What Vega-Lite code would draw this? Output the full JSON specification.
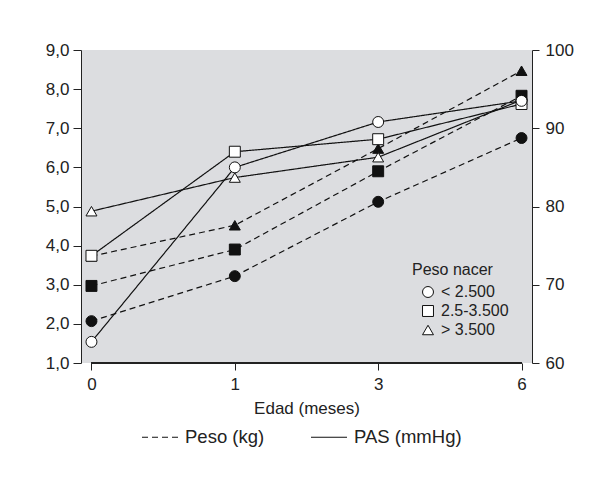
{
  "$schema": "https://vega.github.io/schema/vega-lite/v6.json",
  "width": 451,
  "height": 313,
  "autosize": {"type": "none"},
  "padding": {"left": 81, "top": 50, "right": 71, "bottom": 125},
  "background": "white",
  "config": {
    "font": "Liberation Sans",
    "view": {"fill": "#dcdde0", "stroke": null},
    "axis": {
      "labelFont": "Liberation Sans", "labelFontSize": 17, "labelColor": "#222",
      "domainColor": "#222", "tickColor": "#222", "grid": false,
      "titleFont": "Liberation Sans", "titleFontSize": 17, "titleFontWeight": "normal", "titleColor": "#222"
    },
    "legend": {"labelFont": "Liberation Sans", "titleFont": "Liberation Sans", "labelColor": "#222", "titleColor": "#222", "titleFontWeight": "normal"}
  },
  "datasets": {
    "peso": [
      {"edad": 0, "grupo": "< 2.500", "medida": "Peso (kg)", "valor": 2.07},
      {"edad": 1, "grupo": "< 2.500", "medida": "Peso (kg)", "valor": 3.22},
      {"edad": 3, "grupo": "< 2.500", "medida": "Peso (kg)", "valor": 5.12},
      {"edad": 6, "grupo": "< 2.500", "medida": "Peso (kg)", "valor": 6.75},
      {"edad": 0, "grupo": "2.5-3.500", "medida": "Peso (kg)", "valor": 2.97},
      {"edad": 1, "grupo": "2.5-3.500", "medida": "Peso (kg)", "valor": 3.9},
      {"edad": 3, "grupo": "2.5-3.500", "medida": "Peso (kg)", "valor": 5.9},
      {"edad": 6, "grupo": "2.5-3.500", "medida": "Peso (kg)", "valor": 7.83},
      {"edad": 0, "grupo": "> 3.500", "medida": "Peso (kg)", "valor": 3.73},
      {"edad": 1, "grupo": "> 3.500", "medida": "Peso (kg)", "valor": 4.52},
      {"edad": 3, "grupo": "> 3.500", "medida": "Peso (kg)", "valor": 6.48},
      {"edad": 6, "grupo": "> 3.500", "medida": "Peso (kg)", "valor": 8.47}
    ],
    "pas": [
      {"edad": 0, "grupo": "> 3.500", "medida": "PAS (mmHg)", "valor": 79.4},
      {"edad": 1, "grupo": "> 3.500", "medida": "PAS (mmHg)", "valor": 83.7},
      {"edad": 3, "grupo": "> 3.500", "medida": "PAS (mmHg)", "valor": 86.3},
      {"edad": 6, "grupo": "> 3.500", "medida": "PAS (mmHg)", "valor": 93.6},
      {"edad": 0, "grupo": "2.5-3.500", "medida": "PAS (mmHg)", "valor": 73.7},
      {"edad": 1, "grupo": "2.5-3.500", "medida": "PAS (mmHg)", "valor": 87.0},
      {"edad": 3, "grupo": "2.5-3.500", "medida": "PAS (mmHg)", "valor": 88.6},
      {"edad": 6, "grupo": "2.5-3.500", "medida": "PAS (mmHg)", "valor": 93.1},
      {"edad": 0, "grupo": "< 2.500", "medida": "PAS (mmHg)", "valor": 62.7},
      {"edad": 1, "grupo": "< 2.500", "medida": "PAS (mmHg)", "valor": 85.0},
      {"edad": 3, "grupo": "< 2.500", "medida": "PAS (mmHg)", "valor": 90.8},
      {"edad": 6, "grupo": "< 2.500", "medida": "PAS (mmHg)", "valor": 93.5}
    ]
  },
  "layer": [
    {
      "data": {"name": "peso"},
      "encoding": {
        "x": {"field": "edad", "type": "ordinal", "scale": {"type": "point", "padding": 0.073, "domain": [0, 1, 3, 6]},
              "axis": {"title": "Edad (meses)", "labelAngle": 0, "tickSize": 7, "labelPadding": 6, "titlePadding": 8, "domain": false}},
        "y": {"field": "valor", "type": "quantitative", "scale": {"domain": [1, 9], "nice": false, "zero": false},
              "axis": {"orient": "left", "title": null, "values": [1, 2, 3, 4, 5, 6, 7, 8, 9], "tickSize": 8, "labelPadding": 4,
                       "labelExpr": "replace(format(datum.value, '.1f'), '.', ',')"}}
      },
      "layer": [
        {
          "mark": {"type": "rule", "color": "#222", "strokeWidth": 1},
          "encoding": {
            "x": {"datum": 0, "type": "ordinal"},
            "x2": {"datum": 6},
            "y": {"datum": 1, "type": "quantitative"}
          }
        },
        {
          "mark": {"type": "line", "color": "#111", "strokeWidth": 1.2},
          "encoding": {
            "detail": {"field": "grupo"},
            "strokeDash": {"field": "medida", "type": "nominal",
              "scale": {"domain": ["Peso (kg)", "PAS (mmHg)"], "range": [[6, 4], [1, 0]]},
              "legend": {"orient": "none", "legendX": 60, "legendY": 368, "direction": "horizontal", "title": null,
                         "symbolType": "stroke", "symbolSize": 1296, "symbolStrokeColor": "#111", "symbolStrokeWidth": 1.2,
                         "labelFontSize": 18.5, "labelOffset": 6, "columnPadding": 43}}
          }
        },
        {
          "transform": [{"filter": "datum.grupo === '> 3.500'"}],
          "mark": {"type": "point", "shape": "triangle-up", "filled": true, "fill": "#111", "stroke": "#111", "strokeWidth": 1, "size": 120, "opacity": 1},
          "encoding": {}
        },
        {
          "transform": [{"filter": "datum.grupo === '2.5-3.500'"}],
          "mark": {"type": "point", "shape": "square", "filled": true, "fill": "#111", "stroke": "#111", "strokeWidth": 1, "size": 120, "opacity": 1},
          "encoding": {}
        },
        {
          "transform": [{"filter": "datum.grupo === '< 2.500'"}],
          "mark": {"type": "point", "shape": "circle", "filled": true, "fill": "#111", "stroke": "#111", "strokeWidth": 1, "size": 120, "opacity": 1},
          "encoding": {}
        }
      ]
    },
    {
      "data": {"name": "pas"},
      "encoding": {
        "x": {"field": "edad", "type": "ordinal", "scale": {"type": "point", "padding": 0.073, "domain": [0, 1, 3, 6]},
              "axis": {"title": "Edad (meses)", "labelAngle": 0, "tickSize": 7, "labelPadding": 6, "titlePadding": 8, "domain": false}},
        "y": {"field": "valor", "type": "quantitative", "scale": {"domain": [60, 100], "nice": false, "zero": false},
              "axis": {"orient": "right", "title": null, "values": [60, 70, 80, 90, 100], "tickSize": 7, "labelPadding": 6}}
      },
      "layer": [
        {
          "mark": {"type": "line", "color": "#111", "strokeWidth": 1.2},
          "encoding": {
            "detail": {"field": "grupo"},
            "strokeDash": {"field": "medida", "type": "nominal",
              "scale": {"domain": ["Peso (kg)", "PAS (mmHg)"], "range": [[6, 4], [1, 0]]},
              "legend": {"orient": "none", "legendX": 60, "legendY": 368, "direction": "horizontal", "title": null,
                         "symbolType": "stroke", "symbolSize": 1296, "symbolStrokeColor": "#111", "symbolStrokeWidth": 1.2,
                         "labelFontSize": 18.5, "labelOffset": 6, "columnPadding": 43}}
          }
        },
        {
          "mark": {"type": "point", "filled": false, "color": "#111", "fill": "white", "fillOpacity": 1, "strokeWidth": 1, "size": 120, "opacity": 1},
          "encoding": {
            "shape": {"field": "grupo", "type": "nominal",
              "scale": {"domain": ["< 2.500", "2.5-3.500", "> 3.500"], "range": ["circle", "square", "triangle-up"]},
              "legend": {"orient": "none", "legendX": 331, "legendY": 212, "title": "Peso nacer", "titleFontSize": 16,
                         "labelFontSize": 16, "symbolStrokeWidth": 1,
                         "symbolSize": 120, "symbolOffset": 8, "rowPadding": 3, "titlePadding": 6, "labelOffset": 5}}
          }
        }
      ]
    }
  ],
  "resolve": {"scale": {"y": "independent"}}
}
